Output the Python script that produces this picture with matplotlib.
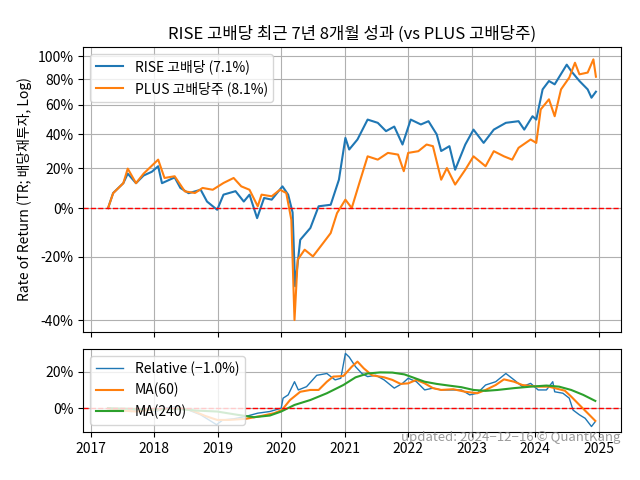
import numpy as np
import pandas as pd
import matplotlib
matplotlib.use("Agg")
import matplotlib.pyplot as plt
import matplotlib.dates as mdates
from datetime import datetime, timedelta

plt.rcParams['font.family'] = ['Noto Sans CJK KR', 'DejaVu Sans']
plt.rcParams['axes.unicode_minus'] = True

# ── data (decimal year, % return) ──
rise_t = [2017.27, 2017.35, 2017.51, 2017.58, 2017.71, 2017.83, 2017.96, 2018.06, 2018.12,
          2018.32, 2018.41, 2018.54, 2018.73, 2018.83, 2018.99, 2019.09, 2019.28, 2019.41,
          2019.50, 2019.62, 2019.73, 2019.85, 2020.02, 2020.11, 2020.18, 2020.22, 2020.30,
          2020.46, 2020.59, 2020.78, 2020.91, 2021.01, 2021.07, 2021.20, 2021.36, 2021.52,
          2021.65, 2021.78, 2021.91, 2022.04, 2022.20, 2022.32, 2022.45, 2022.52, 2022.65,
          2022.74, 2022.90, 2023.03, 2023.19, 2023.35, 2023.54, 2023.74, 2023.83, 2023.96,
          2024.02, 2024.12, 2024.22, 2024.31, 2024.50, 2024.57, 2024.70, 2024.83, 2024.89,
          2024.96]
rise_r = [0, 7.1, 12, 17, 12, 16, 18, 21, 12,
          15, 9.6, 7, 8.7, 3, -0.8, 6.3, 8, 3,
          6.3, -4.5, 4.7, 3.9, 10.4, 6.3, -2, -30, -13.5,
          -8.7, 0.8, 1.5, 13.8, 37.7, 30.6, 36.7, 49.7, 47.5,
          42, 45, 33.6, 49.7, 46.4, 48.6, 39.9, 29.7, 32.6,
          19.1, 33.6, 43, 34.6, 43, 47.5, 48.6, 43, 52,
          49.7, 71.8, 78.5, 75.8, 92.3, 86.8, 78.5, 71.8, 65.4,
          70]

plus_t = [2017.27, 2017.35, 2017.51, 2017.58, 2017.71, 2017.83, 2018.06, 2018.16, 2018.32,
          2018.48, 2018.64, 2018.76, 2018.92, 2019.09, 2019.25, 2019.37, 2019.50, 2019.63,
          2019.69, 2019.85, 2019.98, 2020.08, 2020.16, 2020.21, 2020.26, 2020.37, 2020.50,
          2020.66, 2020.78, 2020.88, 2021.01, 2021.11, 2021.23, 2021.36, 2021.52, 2021.68,
          2021.84, 2021.93, 2022.00, 2022.16, 2022.29, 2022.39, 2022.52, 2022.61, 2022.74,
          2022.90, 2023.03, 2023.22, 2023.35, 2023.51, 2023.64, 2023.74, 2023.93, 2024.02,
          2024.09, 2024.22, 2024.31, 2024.41, 2024.54, 2024.63, 2024.70, 2024.83, 2024.92,
          2024.96]
plus_r = [0, 7, 12, 19.7, 12, 17, 24.7, 14.7, 15.6,
          7.9, 7.1, 9.6, 8.7, 12.1, 14.7, 10.4, 8.7, 0.8,
          6.3, 5.5, 8.7, 7.1, -5.2, -40, -21, -17.3, -19.8,
          -14.8, -10.8, -2.3, 3.9, 0, 12.1, 26.6, 24.7, 28.6,
          27.6, 18.3, 28.6, 29.6, 33.6, 32.6, 13.8, 20, 11.3,
          19.1, 26.6, 21, 29.6, 26.6, 24.7, 31.6, 36.7, 34.6,
          56.8, 64.2, 52, 71.8, 81.3, 94, 84, 85.5, 97,
          82]

rel_t = [2017.27, 2017.45, 2017.64, 2017.83, 2018.03, 2018.15, 2018.35, 2018.54, 2018.73,
         2018.86, 2018.98, 2019.08, 2019.25, 2019.44, 2019.63, 2019.82, 2020.00, 2020.03,
         2020.11, 2020.21, 2020.27, 2020.40, 2020.56, 2020.72, 2020.85, 2020.94, 2021.01,
         2021.07, 2021.17, 2021.27, 2021.36, 2021.49, 2021.62, 2021.78, 2021.91, 2022.00,
         2022.13, 2022.26, 2022.39, 2022.52, 2022.64, 2022.84, 2022.97, 2023.09, 2023.22,
         2023.38, 2023.54, 2023.67, 2023.80, 2023.93, 2024.05, 2024.18, 2024.28, 2024.31,
         2024.44, 2024.54, 2024.60, 2024.70, 2024.79, 2024.89, 2024.95]
rel_r = [0, -1, -1.8, 0, -1.8, 0, 1, -1, -3.6,
         -6.4, -9, -6.4, -5.8, -4.5, -2.7, -1.8, 0, 5.5,
         7.3, 14.5, 10, 11.8, 18, 19, 15.5, 16.4, 30,
         28, 22.7, 19, 17.3, 18, 15.5, 11, 13.6, 16.4,
         14.5, 10, 11, 10, 10, 10, 7.3, 8.2, 12.7,
         14.5, 19, 15.5, 11.8, 13.6, 10, 10, 14.5, 9,
         8.2, 5.5, -1, -3.6, -5.5, -10, -7.3]

ma60_t = [2017.27, 2017.51, 2017.71, 2017.90, 2018.15, 2018.41, 2018.60, 2018.80, 2018.99,
          2019.18, 2019.44, 2019.69, 2019.89, 2020.01, 2020.14, 2020.30, 2020.46, 2020.59,
          2020.72, 2020.82, 2020.98, 2021.11, 2021.20, 2021.30, 2021.43, 2021.62, 2021.75,
          2021.88, 2022.00, 2022.13, 2022.26, 2022.39, 2022.52, 2022.71, 2022.90, 2023.09,
          2023.22, 2023.38, 2023.51, 2023.67, 2023.80, 2023.93, 2024.06, 2024.22, 2024.31,
          2024.47, 2024.57, 2024.70, 2024.83, 2024.95]
ma60_r = [0, -1.3, -1.8, -1, -0.5, 0, -1.3, -4.2, -6.4,
          -6.4, -5.8, -4.2, -2.7, -1, 4.5, 9, 10, 10,
          14.5, 17.3, 17.6, 22.7, 25.5, 21.8, 18, 16.9, 15.5,
          13.3, 13.6, 15.5, 13.6, 11, 10, 10.4, 9, 8.2,
          10, 12.7, 15.8, 14.5, 12.7, 12.2, 11.8, 11.8, 11,
          9.6, 6.4, 1.8, -2.7, -6.9]

ma240_t = [2017.27, 2017.83, 2018.41, 2018.67, 2018.99, 2019.31, 2019.57, 2019.82, 2020.00,
           2020.21, 2020.46, 2020.72, 2020.98, 2021.17, 2021.36, 2021.56, 2021.75, 2021.94,
           2022.07, 2022.26, 2022.45, 2022.64, 2022.84, 2023.03, 2023.22, 2023.41, 2023.67,
           2023.93, 2024.18, 2024.38, 2024.57, 2024.76, 2024.95]
ma240_r = [0, -0.5, -0.5, -1.3, -1.8, -3.6, -4.9, -4, -1.8,
           1.8, 4.5, 8.2, 12.7, 16.9, 19, 19.6, 19.5, 18.5,
           16.9, 14.5, 13.3, 12.4, 11.5, 10, 9.5, 10, 11,
           11.8, 12.4, 11.8, 10, 7.3, 4]

y_ticks = [-40, -20, 0, 20, 40, 60, 80, 100]


def to_date(yr):
    out = []
    for y in yr:
        base = datetime(int(y), 1, 1)
        out.append(base + timedelta(days=(y - int(y)) * 365.25))
    return out


fig, (ax1, ax2) = plt.subplots(2, 1, figsize=(6.4, 4.8), dpi=100, sharex=True,
                               gridspec_kw={"height_ratios": [285, 83]})
fig.subplots_adjust(left=0.13, right=0.97, top=0.902, bottom=0.1, hspace=0.092)

# --- top: cumulative return (log) ---
ax1.plot(to_date(rise_t), 1 + np.array(rise_r) / 100, color="tab:blue", lw=1.5,
         label="RISE 고배당 (7.1%)")
ax1.plot(to_date(plus_t), 1 + np.array(plus_r) / 100, color="tab:orange", lw=1.5,
         label="PLUS 고배당주 (8.1%)")
ax1.axhline(1, color="red", ls="--", lw=1)
ax1.set_yscale("log")
ax1.yaxis.set_major_locator(matplotlib.ticker.FixedLocator([1 + v / 100 for v in y_ticks]))
ax1.yaxis.set_major_formatter(matplotlib.ticker.FixedFormatter([f"{v}%" for v in y_ticks]))
ax1.yaxis.set_minor_locator(matplotlib.ticker.NullLocator())
ax1.set_ylim(0.568, 2.084)
ax1.set_ylabel("Rate of Return (TR; 배당재투자, Log)")
ax1.set_title("RISE 고배당 최근 7년 8개월 성과 (vs PLUS 고배당주)", fontsize=12)
ax1.grid(True)
ax1.legend(loc="upper left")

# --- bottom: relative performance ---
ax2.plot(to_date(rel_t), rel_r, color="tab:blue", lw=1, label="Relative (\u22121.0%)")
ax2.plot(to_date(ma60_t), ma60_r, color="tab:orange", lw=1.5, label="MA(60)")
ax2.plot(to_date(ma240_t), ma240_r, color="tab:green", lw=1.5, label="MA(240)")
ax2.axhline(0, color="red", ls="--", lw=1)
ax2.set_ylim(-13, 32.4)
ax2.set_yticks([0, 20])
ax2.set_yticklabels(["0%", "20%"])
ax2.grid(True)
ax2.legend(loc="upper left")
ax2.xaxis.set_major_locator(mdates.YearLocator())
ax2.xaxis.set_major_formatter(mdates.DateFormatter("%Y"))
ax2.set_xlim(to_date([2016.88])[0], to_date([2025.35])[0])
ax2.text(1.0, 0.01, "updated: 2024\u221212\u221216 \u00a9 QuantKang", transform=ax2.transAxes,
         ha="right", va="top", color="gray", alpha=0.8, fontsize=9.5)

plt.savefig("out.png", dpi=100)
